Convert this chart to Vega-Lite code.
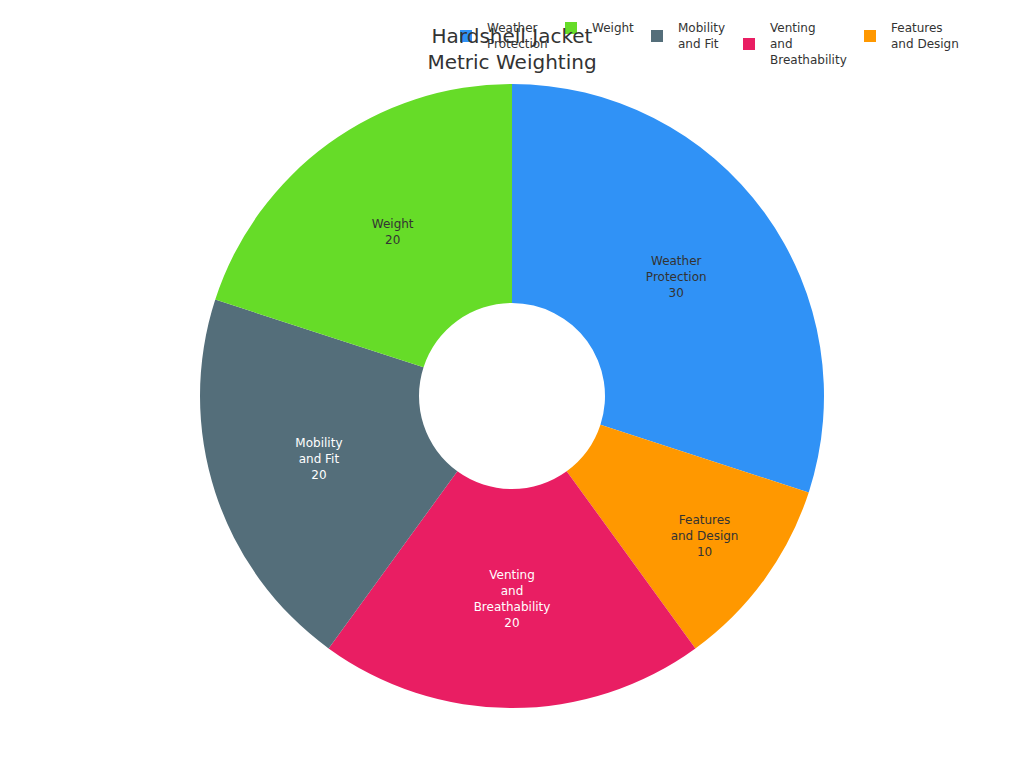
{
  "$schema": "https://vega.github.io/schema/vega-lite/v6.json",
  "description": "Hardshell jacket metric weighting donut.",
  "width": 1024,
  "height": 744,
  "autosize": "none",
  "padding": {"left": 0, "right": 0, "top": 24, "bottom": 0},
  "background": "white",
  "title": {
    "text": ["Hardshell Jacket", "Metric Weighting"],
    "font": "DejaVu Sans",
    "fontSize": 20,
    "fontWeight": "normal",
    "color": "#333333",
    "anchor": "middle",
    "lineHeight": 26,
    "dy": 55
  },
  "data": {
    "values": [
      {"metric": "Weather Protection", "weight": 30},
      {"metric": "Features and Design", "weight": 10},
      {"metric": "Venting and Breathability", "weight": 20},
      {"metric": "Mobility and Fit", "weight": 20},
      {"metric": "Weight", "weight": 20}
    ]
  },
  "transform": [
    {"window": [{"op": "row_number", "as": "slice_order"}]},
    {"stack": "weight", "groupby": [], "sort": [{"field": "slice_order", "order": "ascending"}], "as": ["t0", "t1"]},
    {"calculate": "(datum.t0 + datum.t1) / 2", "as": "mid"},
    {
      "calculate": "(datum.metric == 'Weather Protection' ? 'Weather|Protection' : datum.metric == 'Features and Design' ? 'Features|and Design' : datum.metric == 'Venting and Breathability' ? 'Venting|and|Breathability' : datum.metric == 'Mobility and Fit' ? 'Mobility|and Fit' : datum.metric) + '|' + datum.weight",
      "as": "label"
    }
  ],
  "layer": [
    {
      "mark": {"type": "arc", "outerRadius": 312, "innerRadius": 93},
      "encoding": {
        "theta": {"field": "t0", "type": "quantitative", "scale": {"domain": [0, 100]}},
        "theta2": {"field": "t1"},
        "color": {
          "field": "metric",
          "type": "nominal",
          "scale": {
            "domain": ["Weather Protection", "Weight", "Mobility and Fit", "Venting and Breathability", "Features and Design"],
            "range": ["#3092f6", "#66dc28", "#546e7a", "#e91e63", "#ff9800"]
          },
          "legend": {
            "orient": "none",
            "legendX": 460,
            "legendY": -2,
            "direction": "horizontal",
            "title": null,
            "symbolType": "square",
            "symbolSize": 144,
            "symbolStrokeWidth": 0,
            "labelFont": "DejaVu Sans",
            "labelFontSize": 12,
            "labelColor": "#333333",
            "labelOffset": 15,
            "columnPadding": 17,
            "labelExpr": "split(datum.label == 'Weather Protection' ? 'Weather|Protection|' : datum.label == 'Features and Design' ? 'Features|and Design|' : datum.label == 'Venting and Breathability' ? 'Venting|and|Breathability' : datum.label == 'Mobility and Fit' ? 'Mobility|and Fit|' : datum.label + '||', '|')",
            "encode": {
              "symbols": {
                "update": {
                  "shape": {"signal": "datum.value == 'Weight' ? 'M-1,-1H1V1H-1Z' : datum.value == 'Venting and Breathability' ? 'M-1,1.667H1V3.667H-1Z' : 'M-1,0.333H1V2.333H-1Z'"}
                }
              }
            }
          }
        }
      }
    },
    {
      "transform": [{"filter": "datum.metric == 'Weather Protection' || datum.metric == 'Mobility and Fit'"}],
      "mark": {"type": "text", "radius": 203, "dy": -16, "font": "DejaVu Sans", "fontSize": 12, "lineHeight": 16, "lineBreak": "|", "baseline": "middle"},
      "encoding": {
        "theta": {"field": "mid", "type": "quantitative", "scale": {"domain": [0, 100]}},
        "text": {"field": "label", "type": "nominal"},
        "color": {
          "condition": {"test": "datum.metric == 'Mobility and Fit'", "value": "#ffffff"},
          "value": "#333333"
        }
      }
    },
    {
      "transform": [{"filter": "datum.metric == 'Weight'"}],
      "mark": {"type": "text", "radius": 203, "dy": -8, "font": "DejaVu Sans", "fontSize": 12, "lineHeight": 16, "lineBreak": "|", "baseline": "middle", "color": "#333333"},
      "encoding": {
        "theta": {"field": "mid", "type": "quantitative", "scale": {"domain": [0, 100]}},
        "text": {"field": "label", "type": "nominal"}
      }
    },
    {
      "transform": [{"filter": "datum.metric == 'Venting and Breathability'"}],
      "mark": {"type": "text", "radius": 203, "dy": -24, "font": "DejaVu Sans", "fontSize": 12, "lineHeight": 16, "lineBreak": "|", "baseline": "middle", "color": "#ffffff"},
      "encoding": {
        "theta": {"field": "mid", "type": "quantitative", "scale": {"domain": [0, 100]}},
        "text": {"field": "label", "type": "nominal"}
      }
    },
    {
      "transform": [{"filter": "datum.metric == 'Features and Design'"}],
      "mark": {"type": "text", "radius": 238, "dy": -16, "font": "DejaVu Sans", "fontSize": 12, "lineHeight": 16, "lineBreak": "|", "baseline": "middle", "color": "#333333"},
      "encoding": {
        "theta": {"field": "mid", "type": "quantitative", "scale": {"domain": [0, 100]}},
        "text": {"field": "label", "type": "nominal"}
      }
    }
  ],
  "config": {"view": {"stroke": null}, "style": {"guide-label": {"lineHeight": 16}}}
}
